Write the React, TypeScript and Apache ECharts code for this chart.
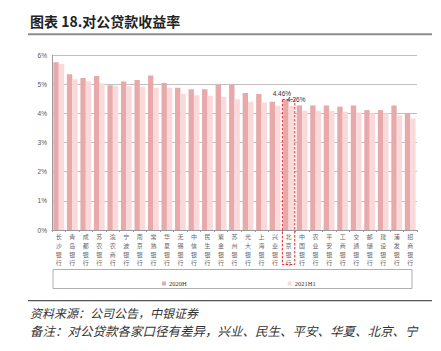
import React, { useEffect, useRef } from "react";
import * as echarts from "echarts";

const categories = [
  "长沙银行", "青岛银行", "成都银行", "苏农银行", "渝农商行", "宁波银行", "南京银行",
  "常熟银行", "华夏银行", "无锡银行", "中信银行", "民生银行", "紫金银行", "苏州银行",
  "光大银行", "上海银行", "兴业银行", "北京银行", "中国银行", "农业银行", "平安银行",
  "工商银行", "交通银行", "邮储银行", "建设银行", "浦发银行", "招商银行",
];
const series2020H = [
  5.75, 5.34, 5.21, 5.28, 4.96, 5.09, 5.14, 5.30, 5.04, 4.88, 4.83, 4.83, 4.99, 4.99,
  4.70, 4.66, 4.40, 4.46, 4.27, 4.27, 4.27, 4.23, 4.27, 4.11, 4.11, 4.27, 3.98,
];
const series2021H1 = [
  5.69, 5.17, 5.09, 5.03, 4.95, 4.93, 4.91, 4.88, 4.88, 4.67, 4.62, 4.60, 4.57, 4.48,
  4.40, 4.37, 4.26, 4.26, 4.09, 4.08, 4.08, 4.05, 4.03, 4.00, 4.00, 3.93, 3.82,
];
const yTicks = [0, 1, 2, 3, 4, 5, 6];
const highlight = "北京银行";
const seriesNames = ["2020H", "2021H1"];

const DARK = "#e8a9ab";
const LIGHT = "#f8dadb";

export default function App() {
  const ref = useRef<HTMLDivElement>(null);
  useEffect(() => {
    const el = ref.current!;
    const chart = echarts.init(el, null, { renderer: "svg" });
    const hi = categories.indexOf(highlight);
    const lbl = (dx: number) => ({
      show: true,
      position: "top" as const,
      distance: 3,
      offset: [dx, 0],
      fontSize: 6.5,
      color: "#333",
      fontFamily: "Liberation Sans",
      formatter: (p: any) => p.value.toFixed(2) + "%",
    });
    const mk = (arr: number[], dx: number) =>
      arr.map((v, i) => (i === hi ? { value: v, label: lbl(dx) } : v));
    chart.setOption({
      animation: false,
      grid: { left: 52, right: 24, top: 55, bottom: 121, containLabel: false },
      legend: {
        left: 157,
        top: 275,
        itemWidth: 4,
        itemHeight: 4,
        itemGap: 101,
        icon: "rect",
        textStyle: { fontSize: 6.5, color: "#333", fontFamily: "Liberation Serif", padding: [0, 0, 0, -2] },
        data: seriesNames,
      },
      xAxis: {
        type: "category",
        data: categories,
        axisLine: { lineStyle: { color: "#999", width: 1 } },
        axisTick: { show: true, length: 2, lineStyle: { color: "#999" } },
        axisLabel: {
          interval: 0,
          rotate: 0,
          hideOverlap: false,
          fontSize: 6,
          lineHeight: 8.8,
          margin: 2,
          color: "#666",
          fontFamily: "Noto Sans CJK SC",
          formatter: (v: string) => v.split("").join("\n"),
        },
      },
      yAxis: {
        type: "value",
        min: 0,
        max: 6,
        interval: 1,
        axisLine: { show: true, lineStyle: { color: "#999" } },
        axisTick: { show: false },
        splitLine: { lineStyle: { color: "#c0c0c0", width: 1 } },
        axisLabel: {
          fontSize: 6.5,
          color: "#555",
          margin: 5,
          fontFamily: "Liberation Sans",
          formatter: (v: number) => (yTicks.includes(v) ? v + "%" : ""),
        },
      },
      series: [
        {
          name: seriesNames[0],
          type: "bar",
          data: mk(series2020H, -4),
          itemStyle: { color: DARK },
          barGap: "0%",
          barCategoryGap: "20%",
        },
        {
          name: seriesNames[1],
          type: "bar",
          data: mk(series2021H1, 5),
          itemStyle: { color: LIGHT },
          barGap: "0%",
          barCategoryGap: "20%",
        },
      ],
    });
    const cx = chart.convertToPixel({ xAxisIndex: 0 }, highlight) as number;
    const topY = chart.convertToPixel({ yAxisIndex: 0 }, series2020H[hi]) as number;
    const baseY = chart.convertToPixel({ yAxisIndex: 0 }, 0) as number;
    chart.setOption({
      graphic: [
        {
          type: "text",
          left: 30,
          top: 14,
          style: {
            text: "图表 18.对公贷款收益率",
            font: "bold 14px 'Noto Sans CJK SC'",
            fill: "#222",
          },
        },
        {
          type: "line",
          shape: { x1: 28, y1: 34.3, x2: 432, y2: 34.3 },
          style: { stroke: "#8c8c8c", lineWidth: 2 },
        },
        {
          type: "rect",
          shape: { x: cx - 6.2, y: topY - 0.5, width: 12.4, height: baseY + 35 - topY },
          style: { fill: "none", stroke: "#e8262a", lineWidth: 1, lineDash: [2.5, 1.5] },
          z: 10,
        },
        {
          type: "rect",
          shape: { x: 53, y: 269.5, width: 359, height: 19 },
          style: { fill: "none", stroke: "#b0b0b0", lineWidth: 1 },
        },
        {
          type: "line",
          shape: { x1: 28, y1: 300.7, x2: 432, y2: 300.7 },
          style: { stroke: "#555", lineWidth: 1.3 },
        },
        {
          type: "text",
          x: 30,
          y: 312.5,
          style: {
            text: "资料来源：公司公告，中银证券",
            font: "italic 12px 'Noto Sans CJK SC'",
            fill: "#333",
            verticalAlign: "middle",
          },
        },
        {
          type: "text",
          x: 30,
          y: 330,
          style: {
            text: "备注：对公贷款各家口径有差异，兴业、民生、平安、华夏、北京、宁",
            font: "italic 12.5px 'Noto Sans CJK SC'",
            fill: "#333",
            verticalAlign: "middle",
          },
        },
      ],
    });
    return () => chart.dispose();
  }, []);
  return (
    <div
      ref={ref}
      style={{ position: "fixed", left: 0, top: 0, width: 441, height: 351, background: "#fff" }}
    />
  );
}
